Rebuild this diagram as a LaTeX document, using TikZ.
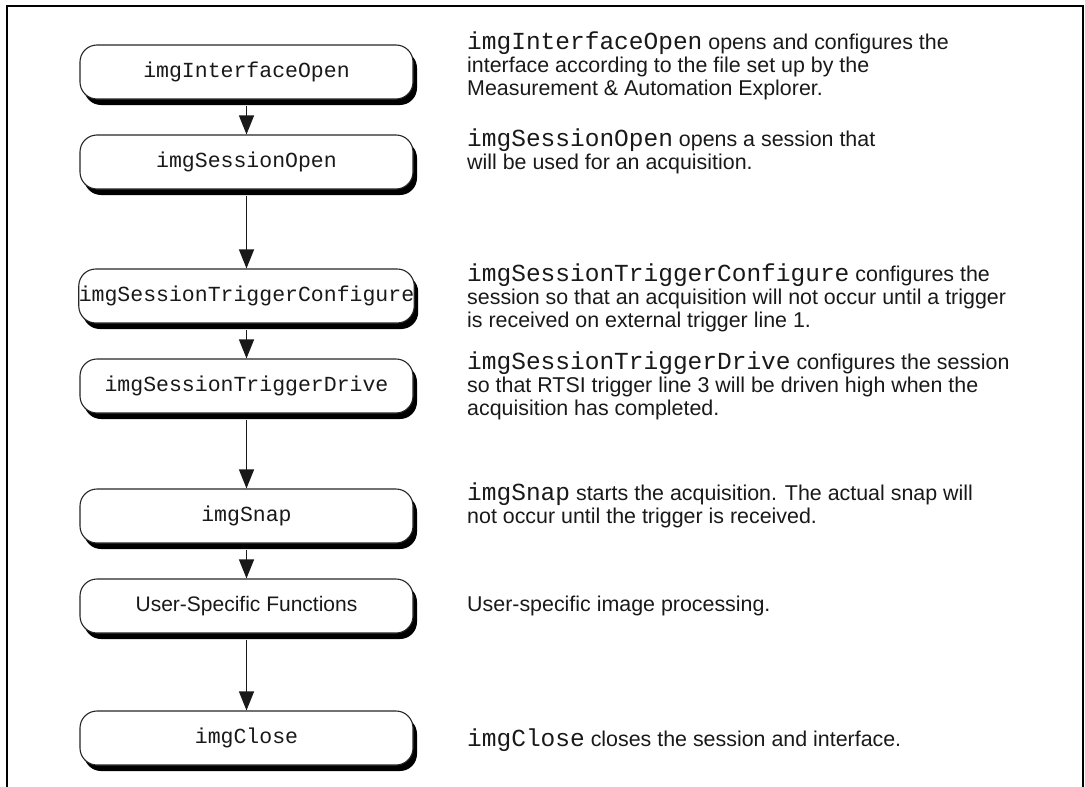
\documentclass[tikz,border=0pt]{standalone}
\usepackage{fontspec}
\setmainfont{Liberation Sans}
\newfontfamily\monofam{Liberation Mono}
\usetikzlibrary{arrows.meta,shadows}
\tikzset{
  flowbox/.style={draw=black!85, line width=1.1pt, fill=white, rounded corners=17pt,
    minimum width=333pt, minimum height=54pt, inner sep=0pt,
    general shadow={fill=black, shadow xshift=4pt, shadow yshift=-6pt},
    font=\monofam\fontsize{21.5}{25}\selectfont, text=black!90},
  sansbox/.style={flowbox, font=\fontsize{21}{25}\selectfont},
  arr/.style={line width=1.3pt, black!90, -{Triangle[length=19pt,width=15pt]}},
  desc/.style={anchor=west, align=left, inner sep=0pt, text=black!90,
    font=\fontsize{21.4}{23}\selectfont},
}
\newcommand{\mcode}[1]{{\monofam\fontsize{24.5}{23}\selectfont #1}}
\begin{document}
\begin{tikzpicture}[x=1pt,y=-1pt]
\useasboundingbox (0,0) rectangle (1085,787);
\draw[line width=2pt, black] (7,790) -- (7,6) -- (1083,6) -- (1083,790);
\node[flowbox] (b1) at (246.5,72) {imgInterfaceOpen};
\node[flowbox] (b2) at (246.5,162) {imgSessionOpen};
\node[flowbox] (b3) at (246.5,296) {imgSessionTriggerConfigure};
\node[flowbox] (b4) at (246.5,386) {imgSessionTriggerDrive};
\node[flowbox] (b5) at (246.5,516) {imgSnap};
\node[sansbox] (b6) at (246.5,606) {User-Specific Functions};
\node[flowbox] (b7) at (246.5,738) {imgClose};
\foreach \a/\b in {b1/b2,b2/b3,b3/b4,b4/b5,b5/b6,b6/b7}
  \draw[arr] ([yshift=-6pt]\a.south) -- (\b.north);
\node[desc] (t1) at (467,66) {\mcode{imgInterfaceOpen} opens and configures the\\interface according to the file set up by the\\Measurement \& Automation Explorer.};
\node[desc] (t2) at (467,151) {\mcode{imgSessionOpen} opens a session that\\will be used for an acquisition.};
\node[desc] (t3) at (467,298) {\mcode{imgSessionTriggerConfigure} configures the\\session so that an acquisition will not occur until a trigger\\is received on external trigger line 1.};
\node[desc] (t4) at (467,386) {\mcode{imgSessionTriggerDrive} configures the session\\so that RTSI trigger line 3 will be driven high when the\\acquisition has completed.};
\node[desc] (t5) at (467,505) {\mcode{imgSnap} starts the acquisition. The actual snap will\\not occur until the trigger is received.};
\node[desc] (t6) at (467,606) {User-specific image processing.};
\node[desc] (t7) at (467,740) {\mcode{imgClose} closes the session and interface.};
\end{tikzpicture}
\end{document}
